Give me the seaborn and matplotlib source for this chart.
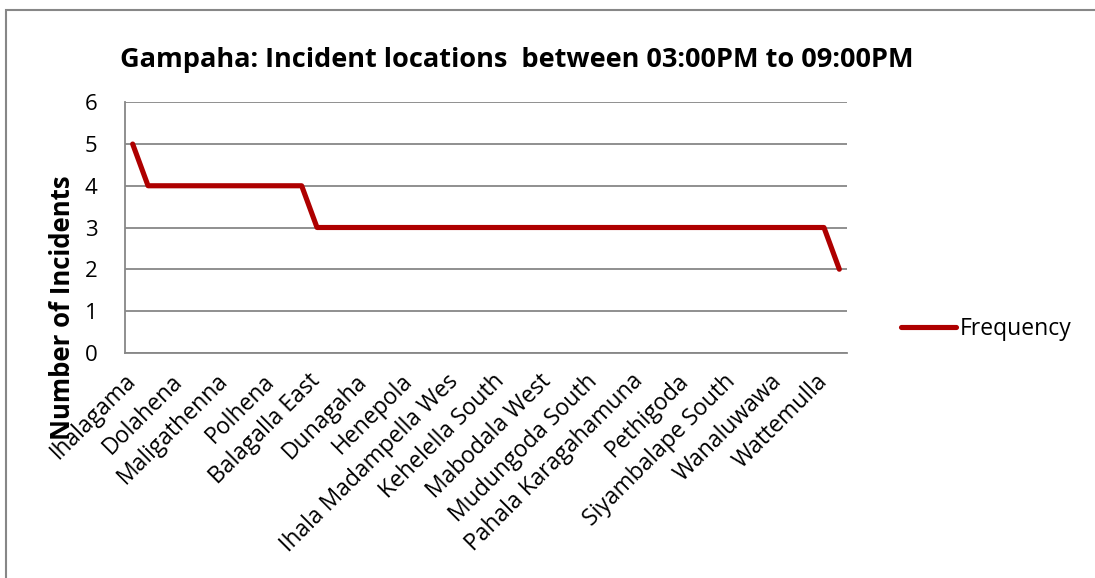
import numpy as np
import matplotlib
matplotlib.use("Agg")
import matplotlib.pyplot as plt
from matplotlib.patches import Rectangle
import seaborn as sns
import pandas as pd

# Incident counts per location (ordered by frequency, descending)
frequency = [5,
             4, 4, 4, 4, 4, 4, 4, 4, 4, 4, 4,
             3, 3, 3, 3, 3, 3, 3, 3, 3, 3, 3, 3, 3, 3, 3, 3, 3,
             3, 3, 3, 3, 3, 3, 3, 3, 3, 3, 3, 3, 3, 3, 3, 3, 3,
             2]

# Location names shown on the category axis (every third location)
shown_locations = ["Ihalagama", "Dolahena", "Maligathenna", "Polhena",
                   "Balagalla East", "Dunagaha", "Henepola",
                   "Ihala Madampella Wes", "Kehelella South", "Mabodala West",
                   "Mudungoda South", "Pahala Karagahamuna", "Pethigoda",
                   "Siyambalape South", "Wanaluwawa", "Wattemulla"]
label_step = 3

title = "Gampaha: Incident locations  between 03:00PM to 09:00PM"
y_label = "Number of Incidents"
series_name = "Frequency"
y_ticks = [0, 1, 2, 3, 4, 5, 6]

sns.set_theme(style="white")
plt.rcParams["font.family"] = ["Open Sans", "DejaVu Sans"]
plt.rcParams["text.color"] = "black"
plt.rcParams["xtick.color"] = "black"
plt.rcParams["ytick.color"] = "black"

df = pd.DataFrame({"pos": np.arange(len(frequency)), "count": frequency})

fig = plt.figure(figsize=(10.95, 5.78), dpi=100)
ax = fig.add_axes([125 / 1095, 1 - 352.7 / 578, 722 / 1095, 250.4 / 578])

red = "#AE0000"
grid_gray = "#878787"

sns.lineplot(data=df, x="pos", y="count", ax=ax, color=red, linewidth=3.7,
             label=series_name, solid_capstyle="round", solid_joinstyle="round")

n = len(frequency)
ax.set_xlim(-0.5, n - 0.5)
ax.set_ylim(0, 6)
ax.set_yticks(y_ticks)
ax.set_yticklabels([str(t) for t in y_ticks], fontsize=16)
ax.yaxis.grid(True, color=grid_gray, linewidth=1.3)
ax.xaxis.grid(False)
ax.set_axisbelow(True)

tick_pos = np.arange(0, n, label_step)[:len(shown_locations)]
ax.set_xticks(tick_pos)
ax.set_xticklabels(shown_locations, rotation=45, ha="right", va="center",
                   rotation_mode="anchor", fontsize=16.5)
ax.tick_params(axis="x", length=0, pad=18)
ax.tick_params(axis="y", length=0, pad=20)

for side in ["top", "right"]:
    ax.spines[side].set_visible(False)
for side in ["left", "bottom"]:
    ax.spines[side].set_color(grid_gray)
    ax.spines[side].set_linewidth(1.3)

ax.set_xlabel("")
ax.set_ylabel("")
fig.text(63 / 1095, 1 - 308 / 578, y_label, rotation=90, ha="center",
         va="center", fontsize=18.5, fontweight="bold")

fig.text(517 / 1095, 1 - 60 / 578, title, ha="center", va="center",
         fontsize=19.5, fontweight="bold")

leg = ax.legend(loc="center left", bbox_to_anchor=(880 / 1095, 1 - 329 / 578),
                bbox_transform=fig.transFigure, frameon=False, fontsize=16.5,
                handlelength=2.4, handletextpad=0.2)

# Chart area border
fig.patches.append(Rectangle((6 / 1095, -0.1), 1.2, 1 - 10 / 578 + 0.1,
                             transform=fig.transFigure, fill=False,
                             edgecolor=grid_gray, linewidth=1.5))

fig.savefig("out.png", dpi=100, facecolor="white")
